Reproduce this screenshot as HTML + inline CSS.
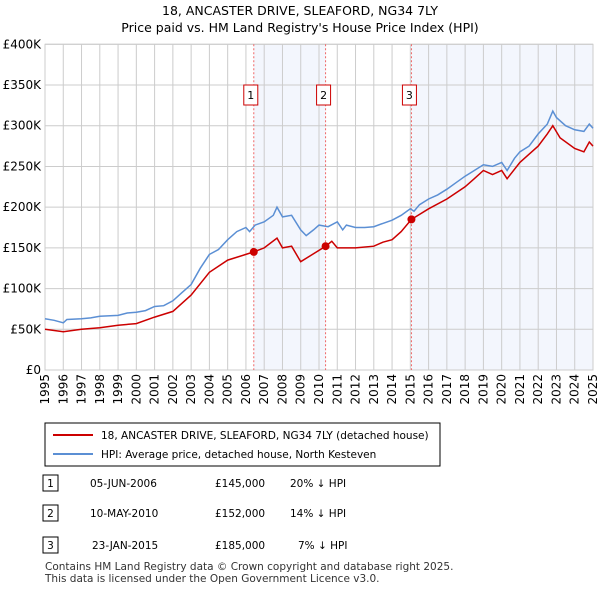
<!DOCTYPE html>
<html><head><meta charset="utf-8"><style>
body{margin:0;background:#fff;font-family:"Liberation Sans","DejaVu Sans",sans-serif;}
svg text{font-family:"DejaVu Sans","Liberation Sans",sans-serif;}
</style></head><body>
<svg id="c" width="600" height="590" xmlns="http://www.w3.org/2000/svg">
<text x="300" y="15" text-anchor="middle" font-size="12.5">18, ANCASTER DRIVE, SLEAFORD, NG34 7LY</text>
<text x="300" y="32" text-anchor="middle" font-size="12.5">Price paid vs. HM Land Registry's House Price Index (HPI)</text>
<g id="plot"></g>
<rect x="45" y="423" width="395" height="43" fill="#fff" stroke="#000" stroke-width="1"/>
<line x1="53" y1="435" x2="93" y2="435" stroke="#cc0000" stroke-width="2"/>
<text x="101" y="439" font-size="10.5">18, ANCASTER DRIVE, SLEAFORD, NG34 7LY (detached house)</text>
<line x1="53" y1="454" x2="93" y2="454" stroke="#5b8fd4" stroke-width="2"/>
<text x="101" y="458" font-size="10.5">HPI: Average price, detached house, North Kesteven</text>
<g font-size="10.5">
<rect x="43" y="475" width="15" height="16" fill="#fff" stroke="#000"/><text x="50.5" y="487" text-anchor="middle">1</text>
<text x="90" y="487">05-JUN-2006</text><text x="215" y="487">£145,000</text><text x="290" y="487">20% ↓ HPI</text>
<rect x="43" y="505" width="15" height="16" fill="#fff" stroke="#000"/><text x="50.5" y="517" text-anchor="middle">2</text>
<text x="90" y="517">10-MAY-2010</text><text x="215" y="517">£152,000</text><text x="290" y="517">14% ↓ HPI</text>
<rect x="43" y="537" width="15" height="16" fill="#fff" stroke="#000"/><text x="50.5" y="549" text-anchor="middle">3</text>
<text x="92" y="549">23-JAN-2015</text><text x="215" y="549">£185,000</text><text x="298" y="549">7% ↓ HPI</text>
</g>
<text x="45" y="570" font-size="10.5" fill="#333">Contains HM Land Registry data © Crown copyright and database right 2025.</text>
<text x="45" y="582" font-size="10.5" fill="#333">This data is licensed under the Open Government Licence v3.0.</text>
</svg>
<script>
const hpiYears=[1995,1995.5,1996,1996.2,1997,1997.5,1998,1999,1999.5,2000,2000.5,2001,2001.5,2002,2002.5,2003,2003.5,2004,2004.5,2005,2005.5,2006,2006.2,2006.5,2007,2007.5,2007.7,2008,2008.5,2009,2009.3,2009.7,2010,2010.5,2011,2011.3,2011.5,2012,2012.5,2013,2013.5,2014,2014.5,2015,2015.2,2015.5,2016,2016.5,2017,2017.5,2018,2018.5,2019,2019.5,2020,2020.3,2020.7,2021,2021.5,2022,2022.5,2022.8,2023,2023.5,2024,2024.5,2024.8,2025];
const hpiValues=[63,61,58,62,63,64,66,67,70,71,73,78,79,85,95,105,125,142,148,160,170,175,170,178,182,190,200,188,190,172,165,172,178,176,182,172,178,175,175,176,180,184,190,198,195,203,210,215,222,230,238,245,252,250,255,245,260,268,275,290,302,318,310,300,295,293,302,297];
const priceYears=[1995,1996,1997,1998,1999,2000,2001,2002,2003,2004,2005,2006,2006.43,2007,2007.7,2008,2008.5,2009,2009.5,2010.36,2010.7,2011,2012,2013,2013.5,2014,2014.5,2015.06,2016,2017,2018,2018.5,2019,2019.5,2020,2020.3,2021,2021.5,2022,2022.5,2022.8,2023.2,2024,2024.5,2024.8,2025];
const priceValues=[50,47,50,52,55,57,65,72,92,120,135,142,145,150,162,150,152,133,140,152,158,150,150,152,157,160,170,185,198,210,225,235,245,240,245,235,255,265,275,290,300,285,272,268,280,275];
const saleYears=[2006.43,2010.36,2015.06];
const saleValues=[145,152,185];
const saleLabels=["1","2","3"];
const yTicks=[0,50,100,150,200,250,300,350,400];
const yTickLabels=["£0","£50K","£100K","£150K","£200K","£250K","£300K","£350K","£400K"];
const xTicks=[1995,1996,1997,1998,1999,2000,2001,2002,2003,2004,2005,2006,2007,2008,2009,2010,2011,2012,2013,2014,2015,2016,2017,2018,2019,2020,2021,2022,2023,2024,2025];
const X0=45,X1=593,Y0=370,Y1=44.3;
const xs=y=>X0+(y-1995)/30*(X1-X0);
const ys=v=>Y0-v/400*(Y0-Y1);
const NS="http://www.w3.org/2000/svg";
const g=document.getElementById('plot');
function mk(t,a){const e=document.createElementNS(NS,t);for(const k in a)e.setAttribute(k,a[k]);g.appendChild(e);return e;}
let e;
e=mk('rect',{x:xs(saleYears[0]),y:Y1,width:xs(saleYears[1])-xs(saleYears[0]),height:Y0-Y1,fill:'#f3f6fd'});


e=mk('rect',{x:xs(saleYears[2]),y:Y1,width:X1-xs(saleYears[2]),height:Y0-Y1,fill:'#f3f6fd'});


yTicks.forEach((v,i)=>{
 e=mk('line',{x1:X0,x2:X1,y1:ys(v),y2:ys(v),stroke:'#ccc','stroke-width':1});
 
 
 e=mk('text',{x:X0-4,y:ys(v)+4,'text-anchor':'end','font-size':12});
 e.textContent=yTickLabels[i];
 
 
});
xTicks.forEach(y=>{
 e=mk('line',{x1:xs(y),x2:xs(y),y1:Y1,y2:Y0,stroke:'#ccc','stroke-width':1});
 
 
 e=mk('text',{x:0,y:0,'font-size':12,'text-anchor':'end',transform:`translate(${xs(y)+4},${Y0+4}) rotate(-90)`});
 e.textContent=y;
 
 
});
e=mk('rect',{x:X0,y:Y1,width:X1-X0,height:Y0-Y1,fill:'none',stroke:'#ccc'});


saleYears.forEach((y,i)=>{
 e=mk('line',{x1:xs(y),x2:xs(y),y1:Y1,y2:Y0,stroke:'#ee6666','stroke-dasharray':'2,2','stroke-width':1});
 
 
});
function path(xsA,vs){return xsA.map((y,i)=>(i?'L':'M')+xs(y).toFixed(1)+','+ys(vs[i]).toFixed(1)).join('');}
e=mk('path',{d:path(hpiYears,hpiValues),fill:'none',stroke:'#5b8fd4','stroke-width':1.5});


e=mk('path',{d:path(priceYears,priceValues),fill:'none',stroke:'#cc0000','stroke-width':1.5});


saleYears.forEach((y,i)=>{
 e=mk('circle',{cx:xs(y),cy:ys(saleValues[i]),r:4,fill:'#cc0000'});
 
 
 e=mk('rect',{x:xs(y)-(i==0?10:9),y:85,width:14,height:20,fill:'#fff',stroke:'#cc0000'});
 
 
 e=mk('text',{x:xs(y)-(i==0?3:2),y:99,'text-anchor':'middle','font-size':11});
 e.textContent=saleLabels[i];
 
 
});
</script>
</body></html>
